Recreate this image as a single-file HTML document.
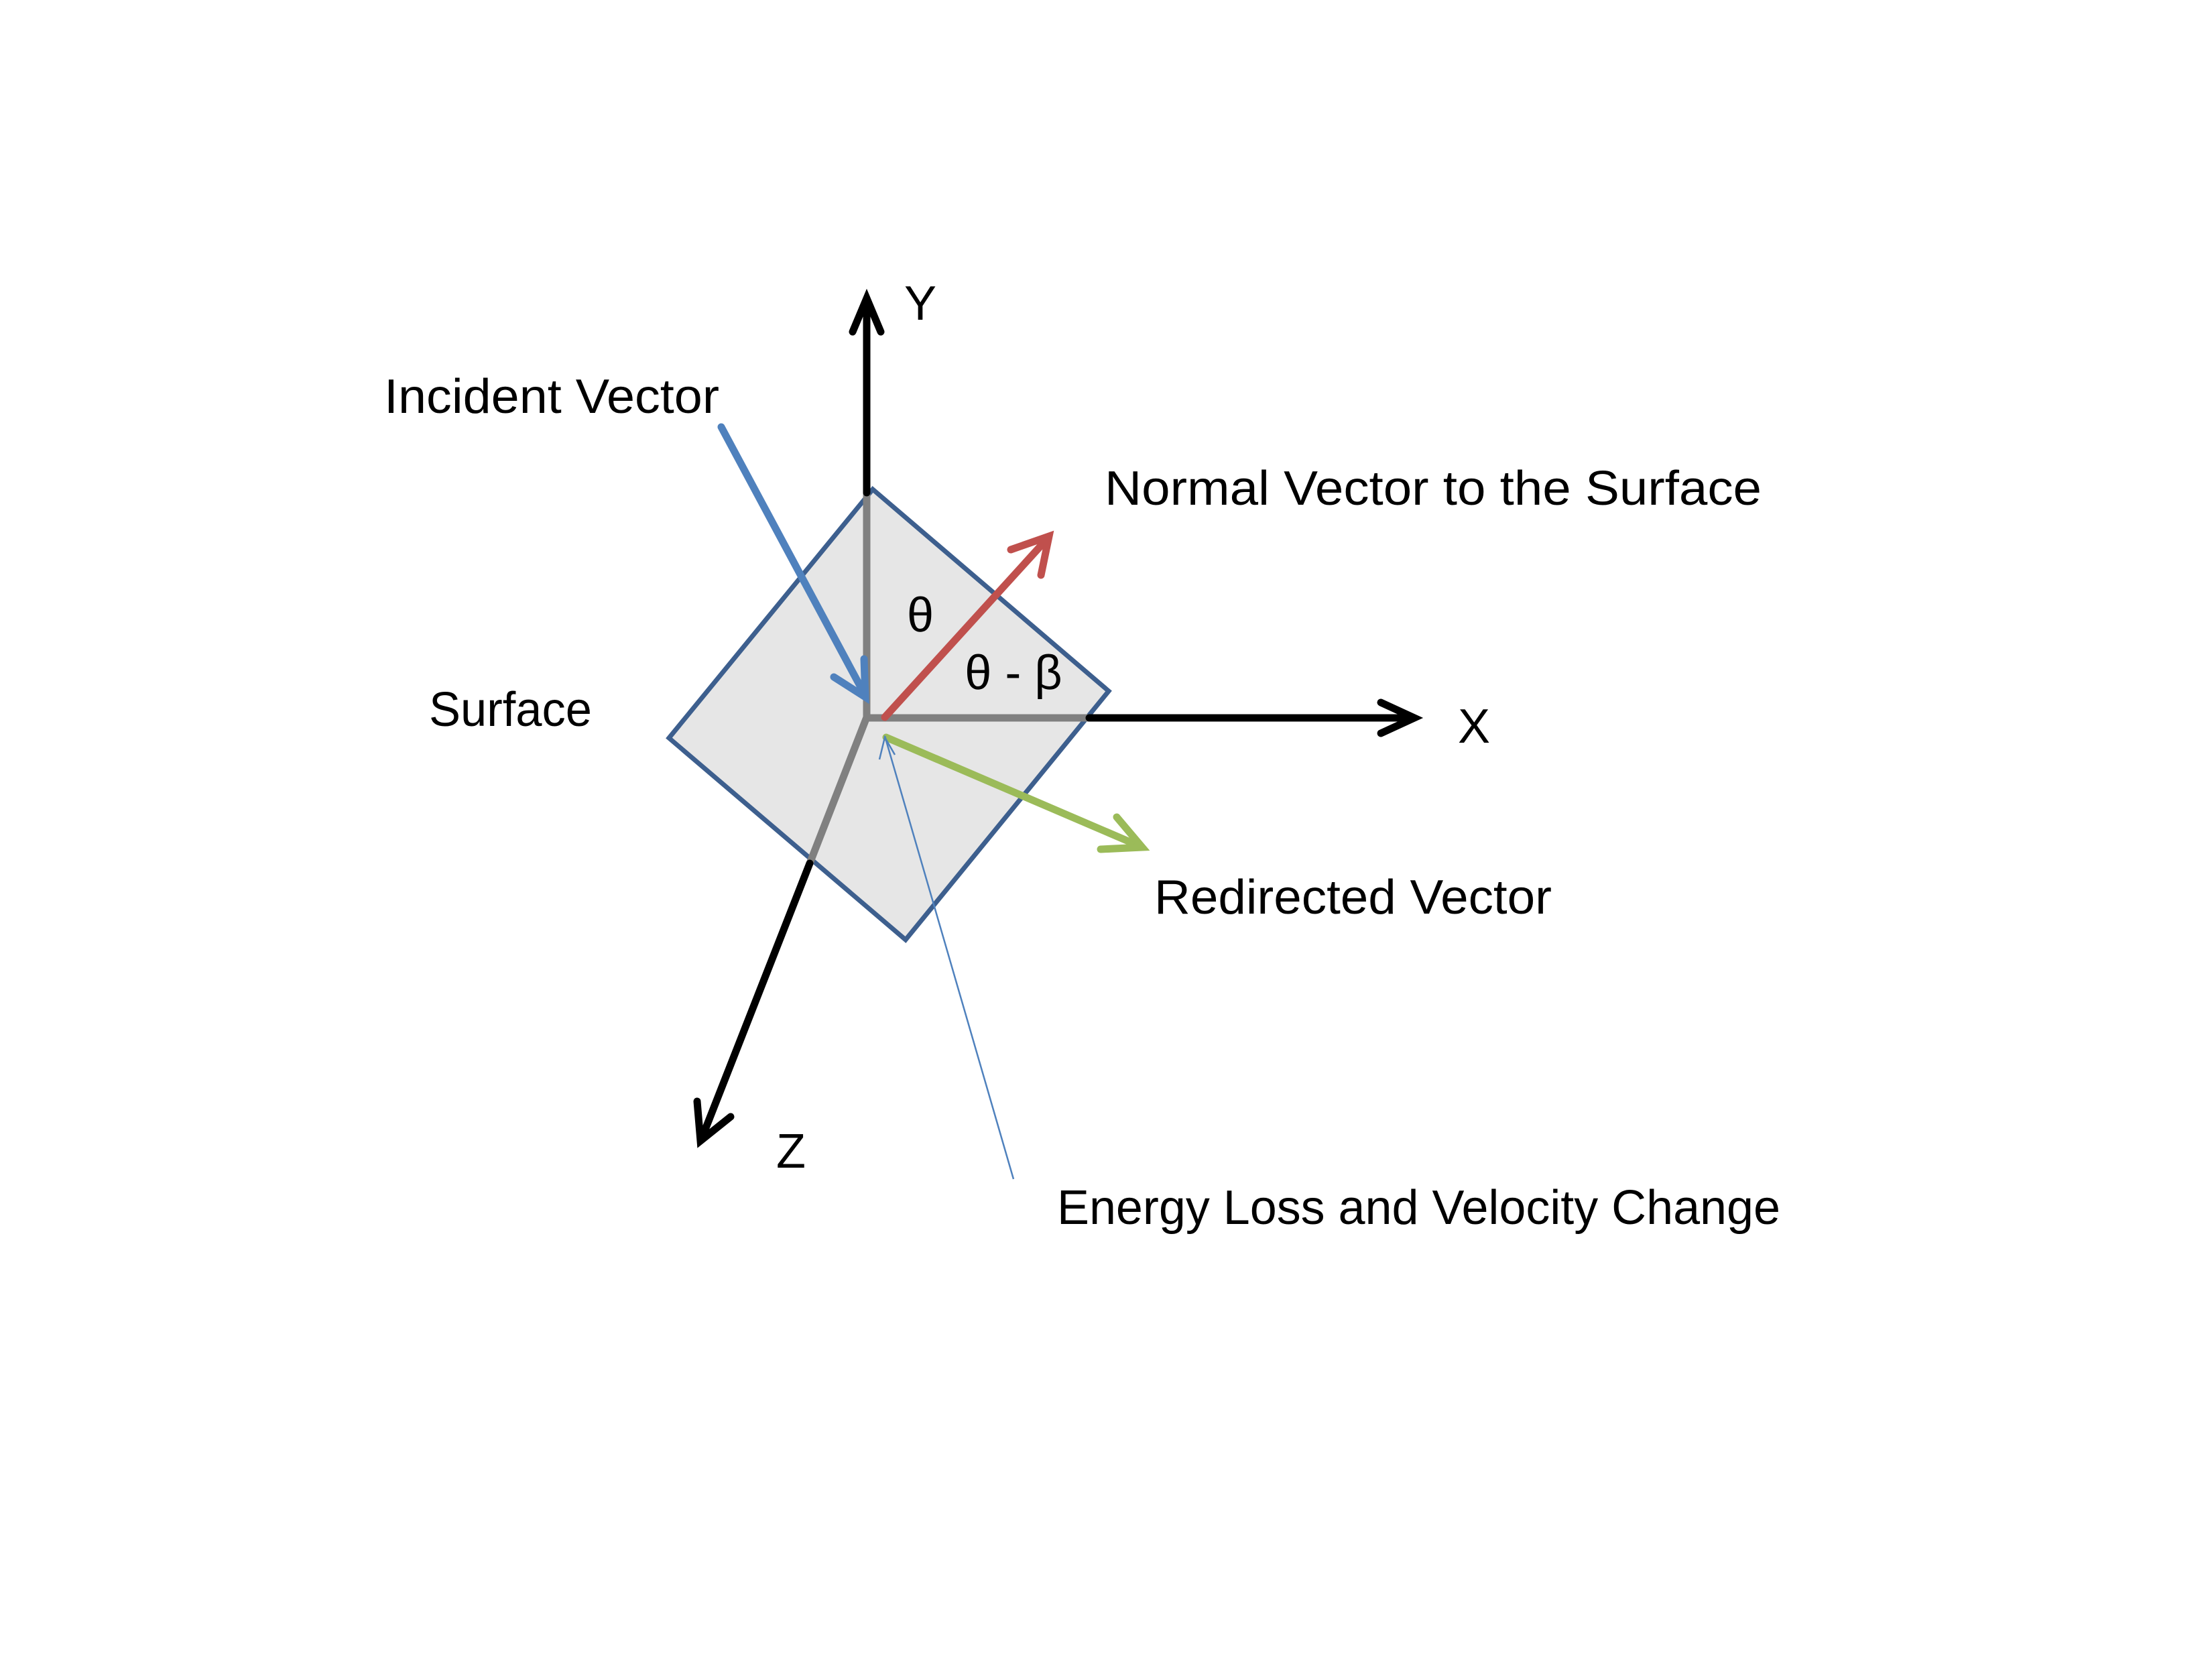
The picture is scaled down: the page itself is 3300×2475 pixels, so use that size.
<!DOCTYPE html>
<html><head><meta charset="utf-8"><style>
html,body{margin:0;padding:0;background:#fff}
svg{display:block}
text{font-family:"Liberation Sans",sans-serif;fill:#000;font-size:72px}
</style></head><body>
<svg width="3300" height="2475" viewBox="0 0 3300 2475" xmlns="http://www.w3.org/2000/svg">
<rect width="3300" height="2475" fill="#fff"/>
<polygon points="1302,730 1654,1031 1351,1402 998,1101" fill="#e6e6e6" stroke="#3d5f8e" stroke-width="7"/>
<g stroke-linecap="round" fill="none">
<line x1="1293" y1="1070" x2="1293" y2="735" stroke="#808080" stroke-width="11"/>
<line x1="1293" y1="735" x2="1293" y2="448" stroke="#000" stroke-width="11"/>
<polyline points="1272,495 1293,445 1314,495" stroke="#000" stroke-width="11"/>
</g>
<g stroke-linecap="round" fill="none">
<line x1="1293" y1="1071" x2="1625" y2="1071" stroke="#808080" stroke-width="11"/>
<line x1="1625" y1="1071" x2="2108" y2="1071" stroke="#000" stroke-width="11"/>
<polyline points="2060,1048 2110,1071 2060,1094" stroke="#000" stroke-width="11"/>
</g>
<g stroke-linecap="round" fill="none">
<line x1="1293" y1="1070" x2="1208" y2="1288" stroke="#808080" stroke-width="11"/>
<line x1="1208" y1="1288" x2="1047" y2="1698" stroke="#000" stroke-width="11"/>
<polyline points="1040,1643 1045,1702 1090,1666" stroke="#000" stroke-width="11"/>
</g>
<g stroke="#4f81bd" stroke-width="11" stroke-linecap="round" fill="none">
<line x1="1076" y1="637" x2="1291" y2="1038"/>
<polyline points="1244,1010 1291,1040 1289,983"/>
</g>
<g stroke="#c0504d" stroke-width="11" stroke-linecap="round" fill="none">
<line x1="1320" y1="1070" x2="1563" y2="803"/>
<polyline points="1508,820 1565,800 1553,858"/>
</g>
<g stroke="#9bbb59" stroke-width="11" stroke-linecap="round" fill="none">
<line x1="1322" y1="1100" x2="1702" y2="1263"/>
<polyline points="1666,1219 1704,1264 1642,1267"/>
</g>
<g stroke="#4f81bd" stroke-width="2.5" fill="none">
<line x1="1320" y1="1098" x2="1512" y2="1759"/>
<polyline points="1312,1133 1320,1100 1335,1126"/>
</g>
<text x="1373" y="477" text-anchor="middle">Y</text>
<text x="2199" y="1108" text-anchor="middle">X</text>
<text x="1180" y="1742" text-anchor="middle">Z</text>
<text x="1373" y="942" text-anchor="middle">θ</text>
<text x="1512" y="1028" text-anchor="middle">θ - β</text>
<text x="573" y="616" textLength="500" lengthAdjust="spacingAndGlyphs">Incident Vector</text>
<text x="640" y="1083" textLength="243" lengthAdjust="spacingAndGlyphs">Surface</text>
<text x="1648" y="753" textLength="980" lengthAdjust="spacingAndGlyphs">Normal Vector to the Surface</text>
<text x="1722" y="1363" textLength="593" lengthAdjust="spacingAndGlyphs">Redirected Vector</text>
<text x="1577" y="1826" textLength="1079" lengthAdjust="spacingAndGlyphs">Energy Loss and Velocity Change</text>
</svg>
</body></html>
